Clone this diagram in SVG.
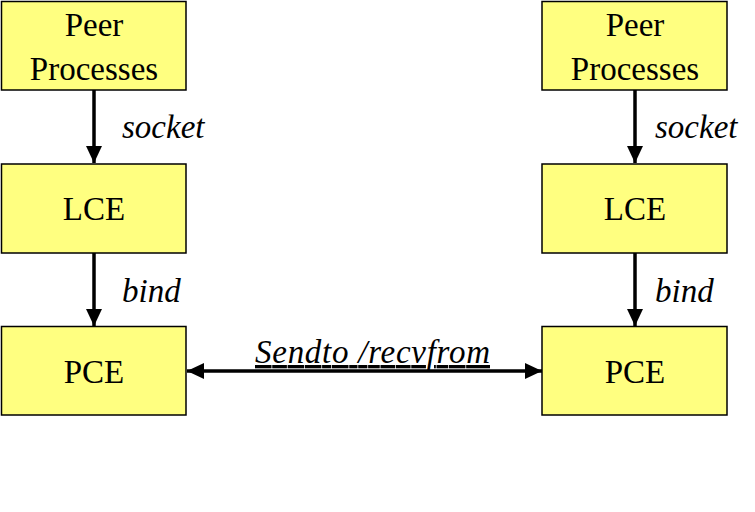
<svg xmlns="http://www.w3.org/2000/svg" width="755" height="512" viewBox="0 0 755 512">
<style>
.box{fill:#ffff80;stroke:#000;stroke-width:1.5}
.t{font-family:"Liberation Serif","Times New Roman",serif;font-size:33px;fill:#000;text-anchor:middle}
.l{font-family:"Liberation Serif","Times New Roman",serif;font-size:33px;font-style:italic;fill:#000}
.c{stroke:#000;stroke-width:3.5;fill:none}
</style>
<defs>
<marker id="ah" markerUnits="userSpaceOnUse" markerWidth="18" markerHeight="18" refX="17" refY="8" orient="auto-start-reverse" viewBox="0 0 18 16">
<path d="M0,0 L17,8 L0,16 Z" fill="#000"/>
</marker>
</defs>
<rect width="755" height="512" fill="#fff"/>
<g id="peer-left"><rect class="box" x="1.5" y="1.5" width="184.5" height="88.5"/><text class="t" x="94" y="36">Peer</text><text class="t" x="94" y="80">Processes</text></g>
<g id="lce-left"><rect class="box" x="1.5" y="164" width="184.5" height="89"/><text class="t" x="94" y="220">LCE</text></g>
<g id="pce-left"><rect class="box" x="1.5" y="326.5" width="184.5" height="88.5"/><text class="t" x="94" y="383">PCE</text></g>
<g id="peer-right"><rect class="box" x="542" y="1.5" width="185" height="88.5"/><text class="t" x="635" y="36">Peer</text><text class="t" x="635" y="80">Processes</text></g>
<g id="lce-right"><rect class="box" x="542" y="164" width="185" height="89"/><text class="t" x="635" y="220">LCE</text></g>
<g id="pce-right"><rect class="box" x="542" y="326.5" width="185" height="88.5"/><text class="t" x="635" y="383">PCE</text></g>
<g id="connectors">
<line class="c" x1="94" y1="90" x2="94" y2="163" marker-end="url(#ah)"/>
<line class="c" x1="94" y1="253" x2="94" y2="326" marker-end="url(#ah)"/>
<line class="c" x1="635" y1="90" x2="635" y2="163" marker-end="url(#ah)"/>
<line class="c" x1="635" y1="253" x2="635" y2="326" marker-end="url(#ah)"/>
<line class="c" x1="187" y1="371" x2="542" y2="371" marker-start="url(#ah)" marker-end="url(#ah)"/>
<text class="l" x="122" y="138">socket</text>
<text class="l" x="122" y="302">bind</text>
<text class="l" x="655" y="138">socket</text>
<text class="l" x="655" y="302">bind</text>
<text class="l" x="255" y="363" textLength="235" text-decoration="underline">Sendto /recvfrom</text>
</g>
</svg>
